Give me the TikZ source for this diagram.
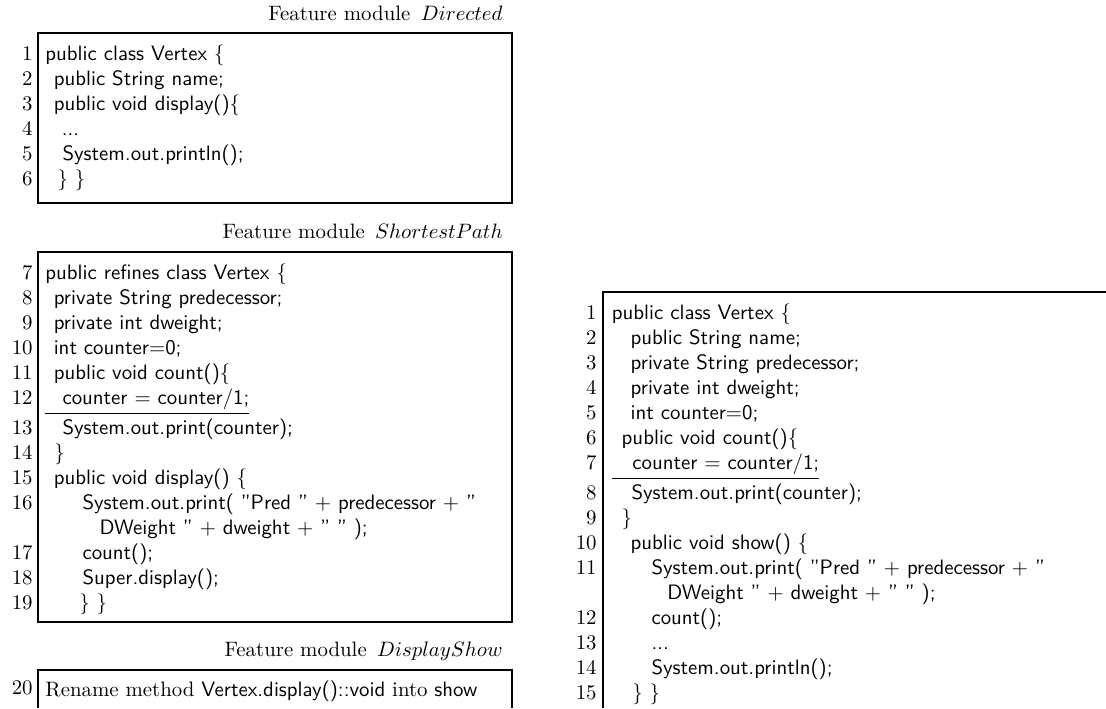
\documentclass[tikz,border=0pt]{standalone}
\usepackage{amsmath, amssymb}
\tikzstyle{heading} = [anchor=base east, inner sep=0pt]
\tikzstyle{linenos} = [anchor=north east, inner sep=0pt]
\tikzstyle{code} = [anchor=north west, inner sep=0pt, font=\sffamily]
\tikzstyle{frame} = [draw=black, line width=0.5pt]
\newcommand{\ulrow}{\rule[-5.6pt]{0pt}{5.6pt}}

\begin{document}
\begin{tikzpicture}[x=0.48pt, y=0.48pt, yscale=-1]
\useasboundingbox (0, 0) rectangle (1106, 708);

\node at (503, 20) (dirhead) [heading] {Feature module \,$Directed$};
\draw [frame] (38, 33) rectangle (512, 203);
\node at (33, 43) (dirnos) [linenos] {\begin{tabular}{@{}r@{}} 1 \\ 2 \\ 3 \\ 4 \\ 5 \\ 6 \end{tabular}};
\node at (45, 43) (dircode) [code] {\begin{tabular}{@{}l@{}}
public class Vertex \{ \\
\hspace{4pt}public String name; \\
\hspace{4pt}public void display()\{ \\
\hspace{7.9pt}... \\
\hspace{8.2pt}System.out.println(); \\
\hspace{5.8pt}\} \}
\end{tabular}};

\node at (503, 238) (sphead) [heading] {Feature module \,$ShortestPath$};
\draw [frame] (38, 252) rectangle (512, 622);
\node at (33, 262) (spnos) [linenos] {\begin{tabular}{@{}r@{}} 7 \\ 8 \\ 9 \\ 10 \\ 11 \\ 12\ulrow \\ 13 \\ 14 \\ 15 \\ 16 \\ \\ 17 \\ 18 \\ 19 \end{tabular}};
\node at (45, 262) (spcode) [code] {\begin{tabular}{@{}l@{}}
public refines class Vertex \{ \\
\hspace{4pt}private String predecessor; \\
\hspace{4pt}private int dweight; \\
\hspace{4pt}int counter$=$0; \\
\hspace{4pt}public void count()\{ \\
\underline{\hspace{8.2pt}counter $=$ counter/1;}\ulrow \\
\hspace{8.2pt}System.out.print(counter); \\
\hspace{4.3pt}\} \\
\hspace{4pt}public void display() \{ \\
\hspace{17.8pt}System.out.print( "Pred " $+$ predecessor $+$ " \\
\hspace{26pt}DWeight " $+$ dweight $+$ " " ); \\
\hspace{17.8pt}count(); \\
\hspace{17.8pt}Super.display(); \\
\hspace{16.3pt}\} \}
\end{tabular}};

\node at (503, 656) (dshead) [heading] {Feature module \,$DisplayShow$};
\draw [frame] (38, 708) -- (38, 670) -- (512, 670) -- (512, 708);
\node at (33, 680) (dsnos) [linenos] {20};
\node at (45, 680) (dscode) [code, font=\rmfamily] {Rename method \textsf{Vertex.display()::void} into \textsf{show}};

\draw [frame] (603, 708) -- (603, 292) -- (1106, 292);
\node at (597, 302) (resnos) [linenos] {\begin{tabular}{@{}r@{}} 1 \\ 2 \\ 3 \\ 4 \\ 5 \\ 6 \\ 7\ulrow \\ 8 \\ 9 \\ 10 \\ 11 \\ \\ 12 \\ 13 \\ 14 \\ 15 \end{tabular}};
\node at (611.5, 302) (rescode) [code] {\begin{tabular}{@{}l@{}}
public class Vertex \{ \\
\hspace{9pt}public String name; \\
\hspace{9pt}private String predecessor; \\
\hspace{9pt}private int dweight; \\
\hspace{9pt}int counter$=$0; \\
\hspace{4.7pt}public void count()\{ \\
\underline{\hspace{9.8pt}counter $=$ counter/1;}\ulrow \\
\hspace{9.4pt}System.out.print(counter); \\
\hspace{4.6pt}\} \\
\hspace{9pt}public void show() \{ \\
\hspace{19pt}System.out.print( "Pred " $+$ predecessor $+$ " \\
\hspace{26.6pt}DWeight " $+$ dweight $+$ " " ); \\
\hspace{19pt}count(); \\
\hspace{19pt}... \\
\hspace{19pt}System.out.println(); \\
\hspace{9.8pt}\} \}
\end{tabular}};

\end{tikzpicture}
\end{document}
